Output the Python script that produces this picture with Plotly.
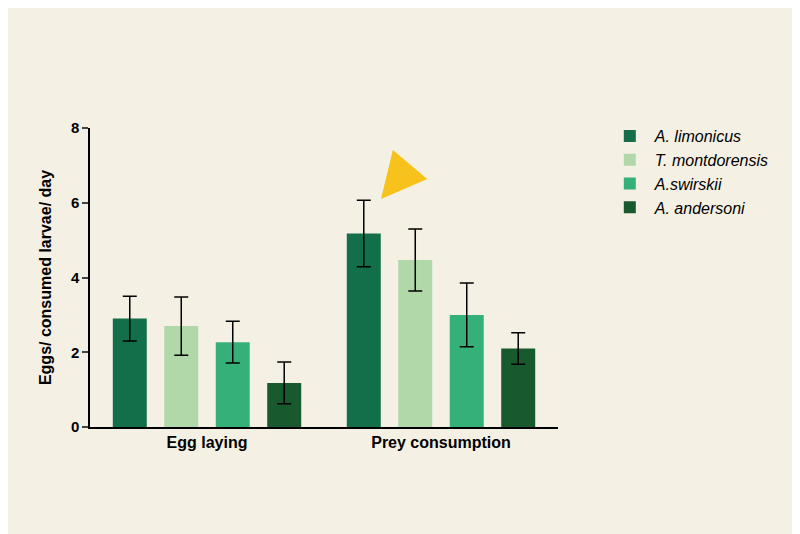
import plotly.graph_objects as go

groups = ["Egg laying", "Prey consumption"]
species = ["A. limonicus", "T. montdorensis", "A.swirskii", "A. andersoni"]
colors = ["#136e4a", "#b0d8a8", "#35b078", "#18592e"]
means = [[2.9, 5.18], [2.7, 4.47], [2.27, 3.0], [1.18, 2.1]]
errs = [[0.6, 0.89], [0.78, 0.83], [0.56, 0.85], [0.56, 0.42]]

fig = go.Figure()
for name, c, m, e in zip(species, colors, means, errs):
    fig.add_trace(go.Bar(
        x=groups, y=m, name=name, marker_color=c, marker_line_width=0,
        error_y=dict(type="data", array=e, color="black", thickness=1.5, width=7),
    ))

# yellow arrow pointing at the A. limonicus prey bar
fig.add_annotation(
    x="Prey consumption", y=6.05, xshift=-60, yshift=2,
    ax=22, ay=-26, text="", showarrow=True,
    arrowhead=2, arrowsize=1.5, arrowwidth=6, arrowcolor="#f7c21b",
)

fig.update_layout(
    width=800, height=534,
    paper_bgcolor="#f5f0e4", plot_bgcolor="#f5f0e4",
    margin=dict(l=82, r=250, t=120, b=115),
    barmode="group", bargap=0.12, bargroupgap=0.34,
    font=dict(family="Liberation Sans, Arial", color="black", size=15),
    legend=dict(x=1.1, y=1.03, xanchor="left", yanchor="top",
                font=dict(size=16, style="italic"), itemwidth=40,
                tracegroupgap=6, bgcolor="rgba(0,0,0,0)"),
    showlegend=True,
)
fig.update_yaxes(
    range=[0, 8], tickvals=[0, 2, 4, 6, 8], showgrid=False, zeroline=False,
    showline=True, linecolor="black", linewidth=1.5, ticks="outside",
    ticklen=6, tickwidth=1.5, tickfont=dict(size=15, weight="bold"),
    title=dict(text="Eggs/ consumed larvae/ day", font=dict(size=16, weight="bold")),
)
fig.update_xaxes(
    showline=True, linecolor="black", linewidth=1.5, showgrid=False,
    ticks="", tickfont=dict(size=16, weight="bold"),
)
fig.write_html("out.html")
